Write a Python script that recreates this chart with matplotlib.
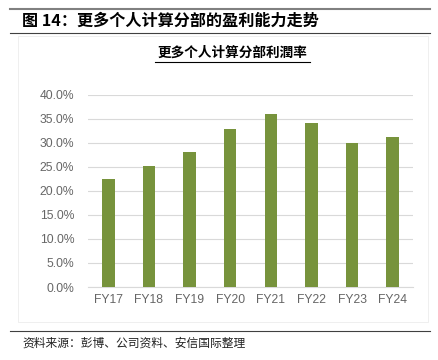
import matplotlib.pyplot as plt
from matplotlib.lines import Line2D
from matplotlib.patches import Rectangle
from matplotlib.ticker import FuncFormatter, MultipleLocator

plt.rcParams['font.family'] = ['Noto Sans CJK SC', 'DejaVu Sans']

categories = ["FY17", "FY18", "FY19", "FY20", "FY21", "FY22", "FY23", "FY24"]
margins = [0.224, 0.251, 0.280, 0.329, 0.359, 0.342, 0.300, 0.311]

title = "图 14：更多个人计算分部的盈利能力走势"
subtitle = "更多个人计算分部利潤率"
source = "资料来源：彭博、公司资料、安信国际整理"

W, H = 438, 360
fig = plt.figure(figsize=(W / 100, H / 100), dpi=100)

# page furniture: rules, title, source
fig.add_artist(Line2D([10 / W, 430 / W], [1 - 9 / H, 1 - 9 / H], color="#808080", lw=1.5))
fig.add_artist(Line2D([10 / W, 430 / W], [1 - 33 / H, 1 - 33 / H], color="#404040", lw=0.8))
fig.add_artist(Line2D([10 / W, 430 / W], [1 - 331 / H, 1 - 331 / H], color="#404040", lw=0.8))
fig.add_artist(Rectangle((18 / W, 1 - 322 / H), 410 / W, 286 / H, fill=False,
                         ec="#ececec", lw=0.6))
fig.text(22 / W, 1 - 21 / H, title, fontsize=11.6, fontweight="bold", va="center", ha="left")
fig.text(22 / W, 1 - 343 / H, source, fontsize=8.5, va="center", ha="left", color="#222222")
fig.text(232 / W, 1 - 53 / H, subtitle, fontsize=9.8, fontweight="bold", va="center", ha="center")
fig.add_artist(Line2D([155 / W, 310 / W], [1 - 62 / H, 1 - 62 / H], color="black", lw=0.8))

ax = fig.add_axes([88 / W, 1 - 287 / H, 325 / W, (287 - 94.7) / H])
ax.bar(range(len(categories)), margins, width=0.31, color="#77933C", zorder=3)
ax.set_xlim(-0.5, len(categories) - 0.5)
ax.set_ylim(0, 0.40)
ax.yaxis.set_major_locator(MultipleLocator(0.05))
ax.yaxis.set_major_formatter(FuncFormatter(lambda v, p: f"{v * 100:.1f}%"))
ax.set_xticks(range(len(categories)))
ax.set_xticklabels(categories)
ax.grid(axis="y", color="#d9d9d9", lw=0.8, zorder=0)
for s in ["top", "right", "left"]:
    ax.spines[s].set_visible(False)
ax.spines["bottom"].set_color("#d9d9d9")
ax.tick_params(length=0, labelsize=8.7, colors="#666666")
ax.tick_params(axis="y", pad=10)
ax.tick_params(axis="x", pad=5)
for lab in ax.get_xticklabels() + ax.get_yticklabels():
    lab.set_family(["Liberation Sans", "DejaVu Sans"])

fig.savefig("out.png", dpi=100)
